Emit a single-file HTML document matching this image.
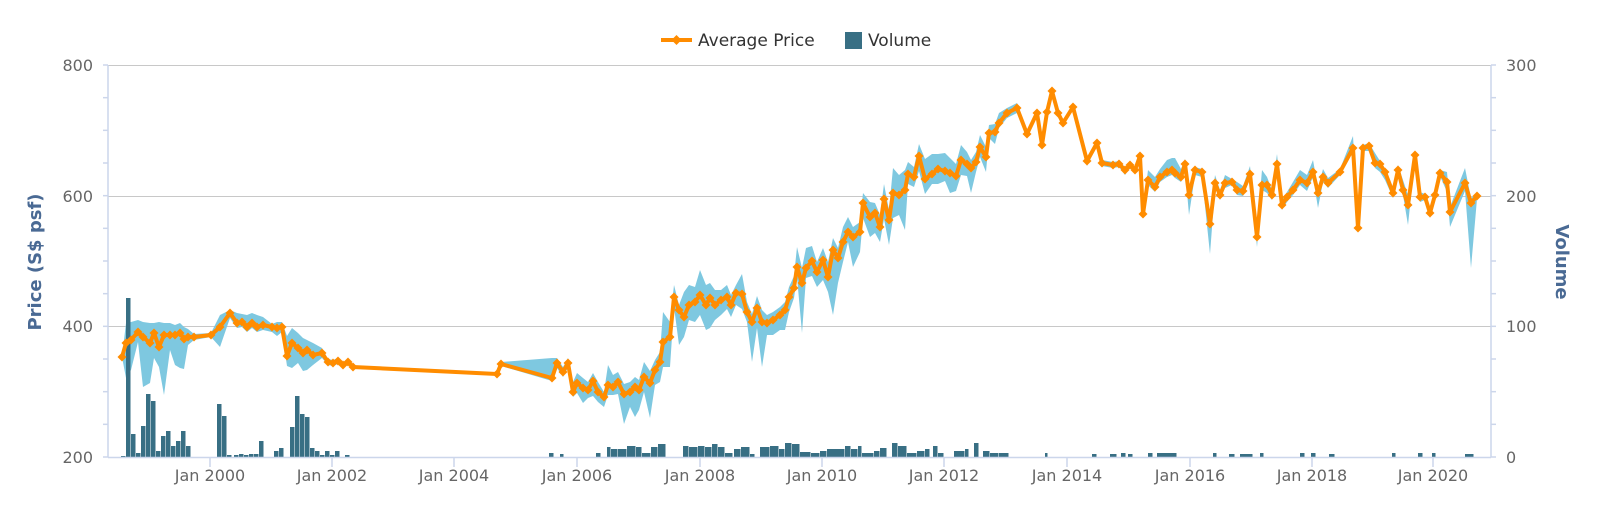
<!DOCTYPE html>
<html><head><meta charset="utf-8"><style>
html,body{margin:0;padding:0;background:#fff;}
svg{display:block;font-family:"DejaVu Sans","Liberation Sans",sans-serif;}
</style></head><body>
<svg id="c" width="1600" height="505" viewBox="0 0 1600 505" xmlns="http://www.w3.org/2000/svg">
<rect width="1600" height="505" fill="#fff"/>
<g stroke="#c8c8c8" stroke-width="1">
<line x1="108" y1="65.5" x2="1491" y2="65.5"/>
<line x1="108" y1="196.5" x2="1491" y2="196.5"/>
<line x1="108" y1="326.5" x2="1491" y2="326.5"/>
</g>
<g id="band"></g>
<g id="bars" fill="#386f84"></g>
<g id="line"></g>
<g stroke="#ccd6eb" stroke-width="1.5" fill="none">
<line x1="108" y1="65" x2="108" y2="457"/>
<line x1="1491" y1="65" x2="1491" y2="457"/>
<line x1="108" y1="457.5" x2="1491" y2="457.5"/>
</g>
<g id="ticks" stroke="#ccd6eb" stroke-width="1.5"></g>
<g fill="#666" font-size="16" text-anchor="end">
<text x="93" y="71">800</text><text x="93" y="202">600</text><text x="93" y="332">400</text><text x="93" y="463">200</text>
</g>
<g fill="#666" font-size="16" text-anchor="start">
<text x="1506" y="71">300</text><text x="1506" y="202">200</text><text x="1506" y="332">100</text><text x="1506" y="463">0</text>
</g>
<g fill="#666" font-size="16" text-anchor="middle">
<text x="210" y="481">Jan 2000</text><text x="332" y="481">Jan 2002</text><text x="454" y="481">Jan 2004</text>
<text x="577" y="481">Jan 2006</text><text x="700" y="481">Jan 2008</text><text x="822" y="481">Jan 2010</text>
<text x="944" y="481">Jan 2012</text><text x="1067" y="481">Jan 2014</text><text x="1190" y="481">Jan 2016</text>
<text x="1312" y="481">Jan 2018</text><text x="1433" y="481">Jan 2020</text>
</g>
<text transform="translate(41,262) rotate(-90)" text-anchor="middle" fill="#4a6a94" font-size="18" font-weight="bold">Price (S$ psf)</text>
<text transform="translate(1556,262) rotate(90)" text-anchor="middle" fill="#4a6a94" font-size="18" font-weight="bold">Volume</text>
<g>
<line x1="661" y1="40" x2="692" y2="40" stroke="#ff8c00" stroke-width="4"/>
<path d="M676.5 35 L681.5 40 L676.5 45 L671.5 40Z" fill="#ff8c00"/>
<text x="698" y="46" font-size="17" fill="#333">Average Price</text>
<rect x="845" y="32" width="17" height="17" fill="#386f84"/>
<text x="868" y="46" font-size="17" fill="#333">Volume</text>
</g>
</svg>
<script>
var NS="http://www.w3.org/2000/svg";
function el(p,t,a){var e=document.createElementNS(NS,t);for(var k in a)e.setAttribute(k,a[k]);p.appendChild(e);return e;}
var tg=document.getElementById('ticks');
for(var i=0;i<=12;i++){var y=65+i*392/12;el(tg,'line',{x1:103,y1:y,x2:108,y2:y});el(tg,'line',{x1:1491,y1:y,x2:1496,y2:y});}
[210,332,454,577,700,822,944,1067,1190,1312,1433].forEach(function(x){el(tg,'line',{x1:x,y1:457,x2:x,y2:467});});
var P=[[122,357,0,0],[126,343,20,35],[131,340,18,30],[138,332,12,10],[143,337,15,50],[150,343,20,40],[154,333,10,25],[159,347,25,20],[164,335,12,60],[170,335,12,15],[175,335,10,30],[180,333,10,35],[184,339,12,30],[188,337,8,8],[194,337,3,3],[211,335,2,2],[220,327,12,20],[230,313,3,5],[237,323,10,5],[242,322,8,5],[247,327,12,5],[252,323,10,5],[257,327,12,5],[263,325,8,5],[272,327,3,5],[277,328,6,8],[282,327,5,5],[287,356,20,10],[292,343,15,25],[298,348,15,15],[303,353,15,18],[307,350,10,20],[313,355,12,10],[322,353,5,5],[328,362,3,3],[333,363,3,3],[338,361,3,3],[343,365,3,3],[348,362,3,3],[353,367,2,2],[497,374,0,0],[501,364,2,2],[552,378,20,3],[557,363,5,5],[563,372,5,5],[568,363,5,5],[573,392,10,5],[577,383,10,10],[583,388,10,15],[588,390,8,8],[593,381,8,15],[598,392,10,10],[604,397,5,10],[608,385,20,10],[613,387,12,8],[618,382,10,12],[624,394,10,30],[630,392,10,15],[635,387,10,30],[639,390,10,20],[644,377,15,15],[650,383,12,35],[655,370,10,15],[660,362,10,20],[663,342,30,25],[670,337,15,30],[674,297,12,10],[679,310,5,35],[684,317,25,20],[689,305,20,15],[695,302,15,20],[700,295,25,20],[706,305,20,25],[710,298,15,30],[715,305,15,15],[721,300,10,15],[727,297,12,12],[731,305,10,12],[736,293,8,12],[742,294,20,15],[747,312,10,10],[752,322,8,40],[757,308,12,20],[762,322,12,45],[767,323,8,12],[773,320,8,15],[780,315,8,15],[785,310,8,20],[789,297,10,15],[794,288,12,10],[797,267,20,10],[802,283,15,50],[806,268,20,10],[812,261,15,15],[817,272,10,15],[823,260,12,20],[828,277,15,15],[833,250,12,65],[838,258,10,25],[843,242,15,20],[848,232,15,10],[853,237,10,30],[860,232,10,20],[863,203,10,15],[870,217,15,20],[875,213,10,20],[880,227,12,15],[884,199,15,20],[889,220,10,25],[893,193,25,25],[899,195,20,20],[905,190,20,40],[908,174,12,10],[914,177,10,10],[919,156,12,15],[925,179,20,15],[932,174,20,10],[938,169,15,15],[945,171,18,10],[950,173,15,20],[956,176,12,15],[961,160,15,15],[967,164,12,12],[971,168,8,25],[976,162,10,10],[980,147,12,10],[986,157,10,15],[989,133,8,5],[995,132,8,12],[999,123,10,5],[1007,113,5,5],[1017,108,5,5],[1027,134,3,3],[1037,113,3,3],[1042,145,3,3],[1047,112,3,3],[1052,91,3,3],[1058,113,3,3],[1063,123,3,3],[1073,107,3,3],[1087,161,3,5],[1097,143,3,3],[1102,163,3,3],[1113,165,3,3],[1119,164,3,3],[1125,170,3,5],[1130,165,3,3],[1135,170,3,3],[1140,156,3,3],[1143,214,3,3],[1148,180,10,5],[1155,187,10,5],[1160,177,8,5],[1167,172,12,5],[1172,170,12,5],[1175,173,15,5],[1181,177,8,5],[1185,164,5,5],[1189,195,3,20],[1195,170,3,5],[1202,172,3,5],[1210,224,5,30],[1215,183,8,5],[1220,195,5,5],[1225,183,8,5],[1232,182,3,3],[1237,190,8,5],[1243,191,5,5],[1250,174,8,5],[1257,237,10,10],[1262,185,15,5],[1267,185,8,8],[1272,195,5,5],[1277,164,10,10],[1282,205,5,5],[1287,197,5,5],[1293,190,8,5],[1300,180,10,5],[1307,183,8,8],[1313,172,12,5],[1318,193,5,15],[1323,177,8,5],[1328,183,5,5],[1340,172,3,3],[1353,148,12,3],[1358,228,3,3],[1363,148,3,3],[1369,146,3,5],[1375,163,10,5],[1380,164,3,8],[1385,172,3,8],[1393,193,5,5],[1398,170,5,5],[1403,190,10,5],[1408,205,10,20],[1415,155,3,3],[1420,197,5,5],[1425,197,3,3],[1430,213,3,5],[1435,195,3,3],[1440,173,3,3],[1447,182,10,10],[1450,212,5,15],[1465,183,15,8],[1471,203,5,65],[1477,196,3,3]];
var bg=document.getElementById('band');
function band(a){var up=a.map(function(p){return p[0]+','+(p[1]-p[2])}),dn=a.slice().reverse().map(function(p){return p[0]+','+(p[1]+p[3])});el(bg,'polygon',{points:up.concat(dn).join(' '),fill:'#7ec8e0'});}
band(P.filter(function(p){return p[0]<=353}));band(P.filter(function(p){return p[0]>=497}));
var B=[[121,126,456],[126,131,298],[131,136,434],[136,141,453],[141,146,426],[146,151,394],[151,156,401],[156,161,451],[161,166,436],[166,171,431],[171,176,446],[176,181,441],[181,186,431],[186,191,446],[217,222,404],[222,227,416],[227,232,455],[234,239,455],[239,244,454],[244,249,455],[249,254,454],[254,259,454],[259,264,441],[274,279,451],[279,284,448],[290,295,427],[295,300,396],[300,305,414],[305,310,417],[310,315,448],[315,320,451],[320,325,455],[325,330,451],[330,335,455],[335,340,451],[345,350,455],
[549,554,453],[560,564,454],[596,601,453],[607,611,447],[611,618,449],[618,627,449],[627,636,446],[636,642,447],[642,651,453],[651,658,447],[658,666,444],[683,689,446],[689,698,447],[698,705,446],[705,712,447],[712,718,444],[718,725,447],[725,733,453],[734,741,449],[741,750,447],[750,755,454],[760,770,447],[770,779,446],[779,785,449],[785,792,443],[792,800,444],
[800,811,452],[811,820,453],[820,827,451],[827,845,449],[845,851,446],[851,858,449],[858,862,446],[862,874,453],[874,880,451],[880,887,448],[892,898,443],[898,907,446],[907,917,453],[917,925,451],[925,930,449],[933,938,446],[938,944,453],[954,965,451],[965,969,449],[974,979,443],[983,990,451],[990,999,453],[999,1009,453],[1045,1048,453],[1092,1097,454],[1110,1117,454],[1121,1126,453],[1128,1133,454],[1148,1153,453],[1157,1177,453],[1213,1217,453],[1229,1235,454],[1240,1253,454],[1260,1264,453],[1300,1305,453],[1311,1316,453],[1329,1335,454],[1392,1396,453],[1418,1423,453],[1432,1436,453],[1465,1474,454]];
var bs=document.getElementById('bars');
B.forEach(function(b){el(bs,'rect',{x:b[0],y:b[2],width:b[1]-b[0]-0.5,height:457-b[2]});});
var lg=document.getElementById('line');
el(lg,'polyline',{points:P.map(function(p){return p[0]+','+p[1]}).join(' '),fill:'none',stroke:'#ff8c00','stroke-width':4,'stroke-linejoin':'round'});
P.forEach(function(p){var x=p[0],y=p[1];el(lg,'path',{d:'M'+x+' '+(y-4.5)+'L'+(x+4.5)+' '+y+'L'+x+' '+(y+4.5)+'L'+(x-4.5)+' '+y+'Z',fill:'#ff8c00'});});
</script>
</body></html>
